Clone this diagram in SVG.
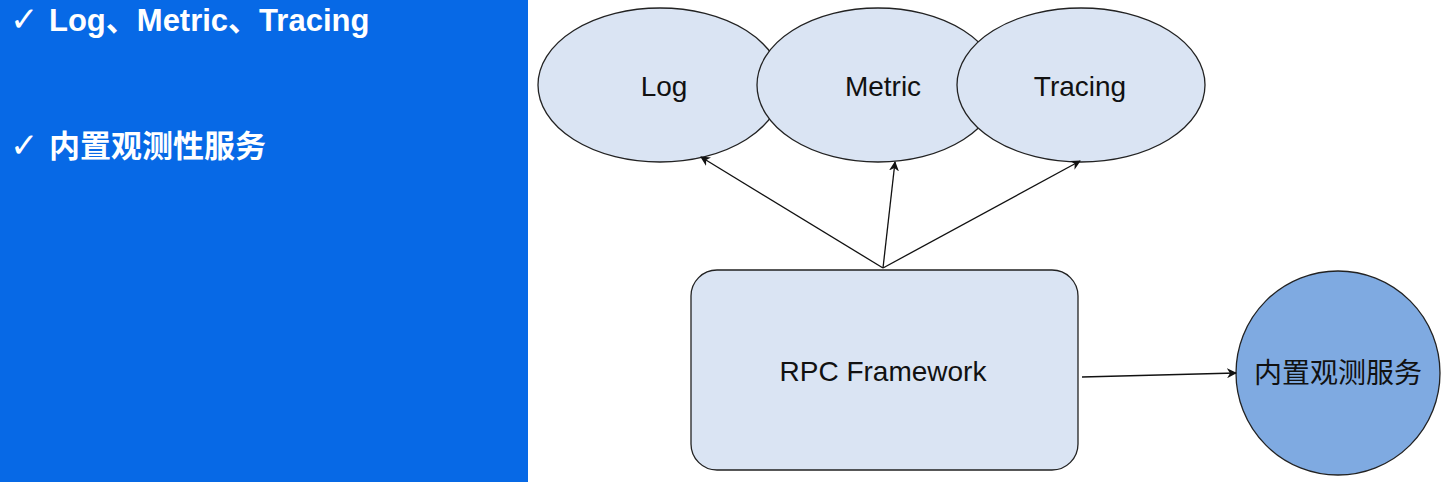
<svg xmlns="http://www.w3.org/2000/svg" width="1448" height="482" viewBox="0 0 1448 482">
<style>
.side{font-family:"Liberation Sans","Noto Sans CJK SC",sans-serif;font-size:31px;fill:#ffffff;font-weight:bold}
.chk{font-family:"DejaVu Sans",sans-serif;font-size:34px;fill:#ffffff}
.lbl{font-family:"Liberation Sans","Noto Sans CJK SC",sans-serif;font-size:28px;fill:#111111;text-anchor:middle;dominant-baseline:central}
.ell{fill:#dae4f3;stroke:#222;stroke-width:1.3}
.conn{stroke:#111;stroke-width:1.3;fill:none;marker-end:url(#ah)}
</style>
<defs>
<marker id="ah" viewBox="0 0 10 10" refX="9" refY="5" markerWidth="10" markerHeight="10" markerUnits="userSpaceOnUse" orient="auto">
<path d="M0,0 L10,5 L0,10 L3,5 z" fill="#111"/>
</marker>
</defs>
<rect x="0" y="0" width="1448" height="482" fill="#ffffff"/>
<g id="panel">
<rect x="0" y="0" width="528" height="482" fill="#0769e6"/>
<text class="chk" x="10" y="31">✓</text>
<text class="side" x="49" y="31">Log、Metric、Tracing</text>
<text class="chk" x="10" y="157">✓</text>
<text class="side" x="49" y="157">内置观测性服务</text>
</g>
<g id="log"><ellipse class="ell" cx="660" cy="85" rx="122" ry="77"/><text class="lbl" x="664" y="86">Log</text></g>
<g id="metric"><ellipse class="ell" cx="878" cy="85" rx="121" ry="77"/><text class="lbl" x="883" y="86">Metric</text></g>
<g id="tracing"><ellipse class="ell" cx="1081" cy="85" rx="124" ry="77"/><text class="lbl" x="1080" y="86">Tracing</text></g>
<g id="rpc"><rect x="691" y="270" width="387" height="200" rx="26" fill="#dae4f3" stroke="#222" stroke-width="1.3"/><text class="lbl" x="883" y="371">RPC Framework</text></g>
<g id="builtin"><circle cx="1338" cy="373" r="102" fill="#7faae1" stroke="#222" stroke-width="1.3"/><text class="lbl" x="1338" y="373">内置观测服务</text></g>
<g id="connectors">
<line class="conn" x1="883" y1="268" x2="701" y2="157"/>
<line class="conn" x1="883" y1="268" x2="895" y2="162"/>
<line class="conn" x1="883" y1="268" x2="1080" y2="161"/>
<line class="conn" x1="1082" y1="377" x2="1236" y2="373"/>
</g>
</svg>
